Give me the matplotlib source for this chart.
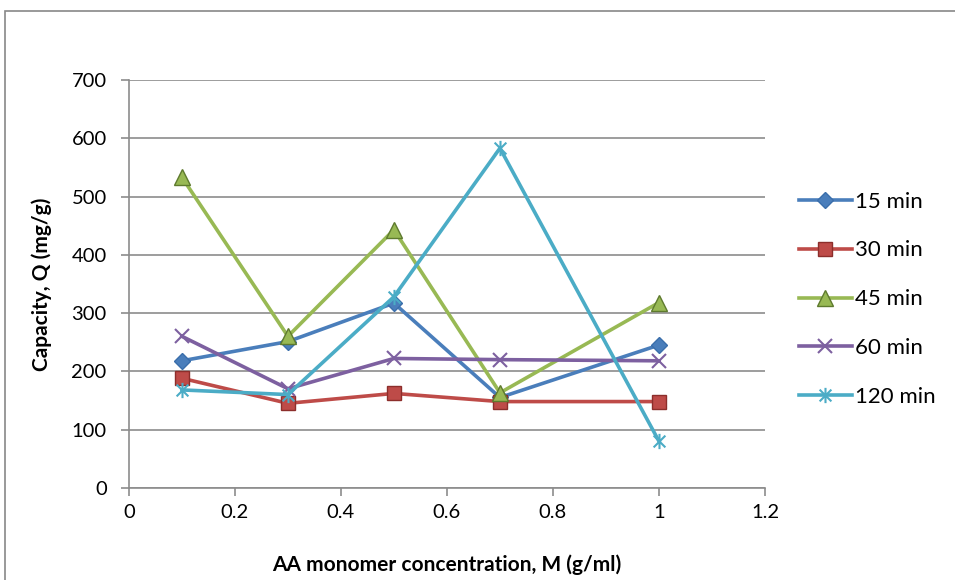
import numpy as np
import matplotlib.pyplot as plt
from matplotlib.path import Path
from matplotlib.patches import Rectangle

# data
conc = [0.1, 0.3, 0.5, 0.7, 1.0]
q_15 = [218, 251, 317, 155, 245]
q_30 = [188, 145, 162, 148, 148]
q_45 = [533, 260, 443, 163, 318]
q_60 = [260, 170, 222, 220, 218]
q_120 = [168, 160, 328, 583, 80]
labels = ['15 min', '30 min', '45 min', '60 min', '120 min']

plt.rcParams['font.family'] = ['Lato', 'DejaVu Sans']

# excel style star: x with a vertical bar
star = Path([(-1, -1), (1, 1), (-1, 1), (1, -1), (0, -1.3), (0, 1.3)],
            [Path.MOVETO, Path.LINETO, Path.MOVETO, Path.LINETO, Path.MOVETO, Path.LINETO])

fig = plt.figure(figsize=(9.55, 5.8), dpi=100)
ax = fig.add_axes([0.135, 0.159, 0.666, 0.703])

# outer chart border
fig.patches.append(Rectangle((5/955, -0.1), 2, 1.1 - 11/580, transform=fig.transFigure,
                             fill=False, edgecolor='#888888', lw=1.2))

styles = [
    (q_15, '#4A7EBB', 'D', 8, '#3A6EAB'),
    (q_30, '#BE4B48', 's', 10, '#8C2E2B'),
    (q_45, '#98B954', '^', 11, '#5E7A2E'),
    (q_60, '#7D60A0', 'x', 10, '#7D60A0'),
    (q_120, '#4BACC6', star, 11, '#4BACC6'),
]
for (vals, col, mk, ms, ec), lab in zip(styles, labels):
    ax.plot(conc, vals, color=col, lw=2.6, marker=mk, markersize=ms,
            markerfacecolor=col, markeredgecolor=ec, markeredgewidth=1.5 if mk in ('x',) or mk is star else 1,
            label=lab)

ax.set_xlim(0, 1.2)
ax.set_ylim(0, 700)
ax.set_xticks(np.arange(0, 1.21, 0.2))
ax.set_xticklabels(['0', '0.2', '0.4', '0.6', '0.8', '1', '1.2'])
ax.set_yticks(range(0, 701, 100))
ax.yaxis.grid(True, color='#8c8c8c', lw=1.2)
ax.set_axisbelow(True)
for s in ['top', 'right']:
    ax.spines[s].set_visible(False)
for s in ['left', 'bottom']:
    ax.spines[s].set_color('#8c8c8c')
    ax.spines[s].set_linewidth(1.2)
ax.tick_params(axis='both', labelsize=14.5, color='#8c8c8c', length=6, width=1.2)
ax.tick_params(axis='x', pad=6)
ax.tick_params(axis='y', pad=10)

ax.set_xlabel('AA monomer concentration, M (g/ml)', fontsize=15, fontweight='bold', labelpad=24)
ax.set_ylabel('Capacity, Q (mg/g)', fontsize=15, fontweight='bold', labelpad=14)

fig.legend(loc='center left', bbox_to_anchor=(0.816, 0.484), frameon=False, fontsize=16,
           labelspacing=1.3, handlelength=2.35, handletextpad=0.15)

fig.savefig('out.png', dpi=100)
